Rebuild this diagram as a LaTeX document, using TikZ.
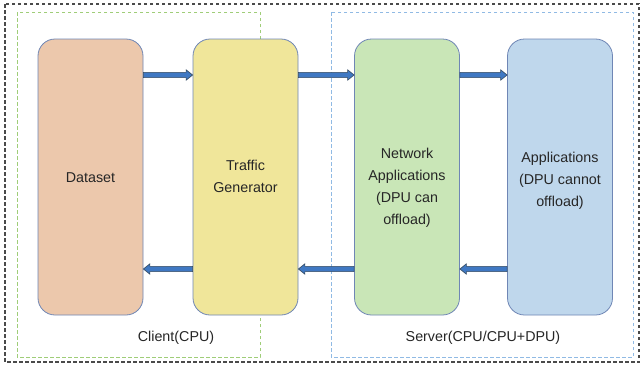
\documentclass[tikz,border=0pt]{standalone}
\usepackage{fontspec}
\setmainfont{Liberation Sans}
\usetikzlibrary{calc}

\definecolor{framegray}{HTML}{4A4A4A}
\definecolor{clientgreen}{HTML}{9FCD78}
\definecolor{serverblue}{HTML}{90BAE4}
\definecolor{boxedge}{HTML}{6F86B5}
\definecolor{dsfill}{HTML}{ECC8AC}
\definecolor{tgfill}{HTML}{F0E69A}
\definecolor{nafill}{HTML}{C9E6B7}
\definecolor{apfill}{HTML}{BFD7EC}
\definecolor{arrfill}{HTML}{3F78C3}
\definecolor{arredge}{HTML}{34495E}
\definecolor{txt}{HTML}{262626}

\tikzset{
  stage/.style={draw=boxedge, line width=0.8pt, rounded corners=17pt,
    minimum width=105pt, minimum height=276pt, inner sep=0pt},
  lbl/.style={text=txt, font=\fontsize{14.3}{22}\selectfont, align=center, inner sep=0pt},
  blockarr/.style={fill=arrfill, draw=arredge, line width=0.6pt, line join=miter},
  group/.style={dash pattern=on 3.5pt off 2.5pt, line width=0.9pt}
}

% right-pointing block arrow from #1 to #2 (tip at #2)
\newcommand{\rarr}[2]{%
  \filldraw[blockarr] let \p1=(#1), \p2=(#2) in
    (\x1,\y1+2.6pt) -- (\x2-6.5pt,\y1+2.6pt) -- (\x2-6.5pt,\y1+5.2pt) -- (\x2,\y1)
    -- (\x2-6.5pt,\y1-5.2pt) -- (\x2-6.5pt,\y1-2.6pt) -- (\x1,\y1-2.6pt) -- cycle;}
% left-pointing block arrow from #1 to #2 (tip at #2)
\newcommand{\larr}[2]{%
  \filldraw[blockarr] let \p1=(#1), \p2=(#2) in
    (\x1,\y1+2.6pt) -- (\x2+6.5pt,\y1+2.6pt) -- (\x2+6.5pt,\y1+5.2pt) -- (\x2,\y1)
    -- (\x2+6.5pt,\y1-5.2pt) -- (\x2+6.5pt,\y1-2.6pt) -- (\x1,\y1-2.6pt) -- cycle;}

\begin{document}
\begin{tikzpicture}[x=1pt, y=-1pt]
  \useasboundingbox (0,0) rectangle (643,367);
  \fill[white] (0,0) rectangle (643,367);

  % outer frame and the two machine groups
  \draw[framegray, dash pattern=on 3.5pt off 2.5pt, line width=1.1pt] (5,4) rectangle (639,362);
  \draw[group, clientgreen] (17,12) rectangle (260,357);
  \draw[group, serverblue] (331,12) rectangle (633,357);

  % processing stages
  \node[stage, fill=dsfill] (ds) at (90.5,177) {};
  \node[stage, fill=tgfill] (tg) at (245.5,177) {};
  \node[stage, fill=nafill] (na) at (407,177) {};
  \node[stage, fill=apfill] (ap) at (560,177) {};

  \node[lbl] (dst) at ($(ds.center)+(0,1)$) {Dataset};
  \node[lbl] (tgt) at ($(tg.center)+(0,-1)$) {Traffic\\Generator};
  \node[lbl] (nat) at ($(na.center)+(0,11)$) {Network\\Applications\\(DPU can\\offload)};
  \node[lbl] (apt) at ($(ap.center)+(0,4)$) {Applications\\(DPU cannot\\offload)};

  \node[lbl] (client) at (176,338) {Client(CPU)};
  \node[lbl] (server) at (483,338) {Server(CPU/CPU+DPU)};

  % request path (top) and response path (bottom)
  \coordinate (r1) at (ds.east |- 0,75);
  \coordinate (r2) at (tg.east |- 0,75);
  \coordinate (r3) at (na.east |- 0,75);
  \coordinate (q1) at (tg.west |- 0,269);
  \coordinate (q2) at (na.west |- 0,269);
  \coordinate (q3) at (ap.west |- 0,269);

  \rarr{r1}{tg.west |- r1}
  \rarr{r2}{na.west |- r2}
  \rarr{r3}{ap.west |- r3}
  \larr{q1}{ds.east |- q1}
  \larr{q2}{tg.east |- q2}
  \larr{q3}{na.east |- q3}
\end{tikzpicture}
\end{document}
